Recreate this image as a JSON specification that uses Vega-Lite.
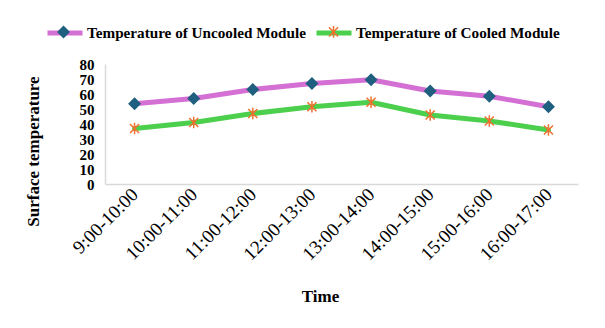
{
  "$schema": "https://vega.github.io/schema/vega-lite/v6.json",
  "width": 473,
  "height": 120,
  "autosize": "none",
  "padding": {"left": 105, "top": 64, "right": 27, "bottom": 144},
  "background": "white",
  "data": {
    "values": [
      {"time": "9:00-10:00", "Temperature of Uncooled Module": 53.5, "Temperature of Cooled Module": 37},
      {"time": "10:00-11:00", "Temperature of Uncooled Module": 57, "Temperature of Cooled Module": 41},
      {"time": "11:00-12:00", "Temperature of Uncooled Module": 63, "Temperature of Cooled Module": 47},
      {"time": "12:00-13:00", "Temperature of Uncooled Module": 67, "Temperature of Cooled Module": 51.5},
      {"time": "13:00-14:00", "Temperature of Uncooled Module": 69.5, "Temperature of Cooled Module": 54.5},
      {"time": "14:00-15:00", "Temperature of Uncooled Module": 62, "Temperature of Cooled Module": 46},
      {"time": "15:00-16:00", "Temperature of Uncooled Module": 58.5, "Temperature of Cooled Module": 42},
      {"time": "16:00-17:00", "Temperature of Uncooled Module": 51.5, "Temperature of Cooled Module": 36}
    ]
  },
  "encoding": {
    "x": {
      "field": "time",
      "type": "ordinal",
      "sort": null,
      "scale": {"padding": 0.5},
      "axis": {
        "title": "Time",
        "labelAngle": -45,
        "labelAlign": "right",
        "labelBaseline": "middle",
        "labelFont": "Liberation Serif",
        "labelFontSize": 19,
        "labelColor": "#000000",
        "labelPadding": 7,
        "labelOverlap": false,
        "labelLimit": 300,
        "ticks": false,
        "domainColor": "#d9d9d9",
        "domainWidth": 1.5,
        "titleFont": "Liberation Serif",
        "titleFontSize": 17,
        "titleFontWeight": "bold",
        "titleColor": "#000000",
        "titleX": 215,
        "titleY": 112,
        "titleBaseline": "middle",
        "titleAlign": "center"
      }
    },
    "y": {
      "field": "value",
      "type": "quantitative",
      "scale": {"domain": [0, 80]},
      "axis": {
        "title": "Surface temperature",
        "values": [0, 10, 20, 30, 40, 50, 60, 70, 80],
        "labelOverlap": false,
        "labelFlush": false,
        "grid": false,
        "ticks": false,
        "domainColor": "#d9d9d9",
        "domainWidth": 1.5,
        "labelFont": "Liberation Serif",
        "labelFontSize": 15,
        "labelFontWeight": "bold",
        "labelColor": "#000000",
        "labelPadding": 11,
        "titleFont": "Liberation Serif",
        "titleFontSize": 17,
        "titleFontWeight": "bold",
        "titleColor": "#000000",
        "titleAngle": 270,
        "titleX": -72,
        "titleY": 87,
        "titleAlign": "center",
        "titleBaseline": "middle"
      }
    }
  },
  "layer": [
    {
      "transform": [
        {"fold": ["Temperature of Uncooled Module", "Temperature of Cooled Module"], "as": ["key", "value"]}
      ],
      "mark": {"type": "line", "strokeWidth": 5, "strokeJoin": "round", "strokeCap": "round"},
      "encoding": {
        "color": {
          "field": "key",
          "type": "nominal",
          "sort": null,
          "scale": {"range": ["#d46fd4", "#4ccf4c"]},
          "legend": {
            "title": null,
            "orient": "none",
            "legendX": -60,
            "legendY": -51,
            "direction": "horizontal",
            "symbolType": "stroke",
            "symbolSize": 1225,
            "symbolStrokeWidth": 5,
            "labelFont": "Liberation Serif",
            "labelFontSize": 15.2,
            "labelFontWeight": "bold",
            "labelColor": "#000000",
            "labelAlign": "left",
            "labelLimit": 400,
            "labelOffset": 2,
            "columnPadding": 0,
            "padding": 0
          }
        }
      }
    },
    {
      "transform": [
        {"fold": ["Temperature of Uncooled Module", "Temperature of Cooled Module"], "as": ["key2", "value"]}
      ],
      "mark": {"type": "point", "size": 1225, "strokeWidth": 1.5, "opacity": 1},
      "encoding": {
        "shape": {
          "field": "key2",
          "type": "nominal",
          "sort": null,
          "scale": {"range": ["M0,-0.31L0.31,0L0,0.31L-0.31,0Z", "M-0.26,-0.26L0.26,0.26M-0.26,0.26L0.26,-0.26M0,-0.33V0.33"]},
          "legend": {
            "title": null,
            "orient": "none",
            "legendX": -60,
            "legendY": -51,
            "direction": "horizontal",
            "symbolSize": 1225,
            "symbolStrokeWidth": 1.5,
            "labelExpr": "''",
            "labelOffset": 0,
            "columnPadding": 233,
            "padding": 0
          }
        },
        "fill": {
          "field": "key2",
          "type": "nominal",
          "sort": null,
          "scale": {"range": ["#1f5f7f", "transparent"]},
          "legend": {
            "title": null,
            "orient": "none",
            "legendX": -60,
            "legendY": -51,
            "direction": "horizontal",
            "symbolSize": 1225,
            "symbolStrokeWidth": 1.5,
            "labelExpr": "''",
            "labelOffset": 0,
            "columnPadding": 233,
            "padding": 0
          }
        },
        "stroke": {
          "field": "key2",
          "type": "nominal",
          "sort": null,
          "scale": {"range": ["#1f5f7f", "#f07030"]},
          "legend": {
            "title": null,
            "orient": "none",
            "legendX": -60,
            "legendY": -51,
            "direction": "horizontal",
            "symbolSize": 1225,
            "symbolStrokeWidth": 1.5,
            "labelExpr": "''",
            "labelOffset": 0,
            "columnPadding": 233,
            "padding": 0
          }
        }
      }
    }
  ],
  "config": {
    "view": {"stroke": null},
    "axis": {"labelOverlap": false}
  }
}
